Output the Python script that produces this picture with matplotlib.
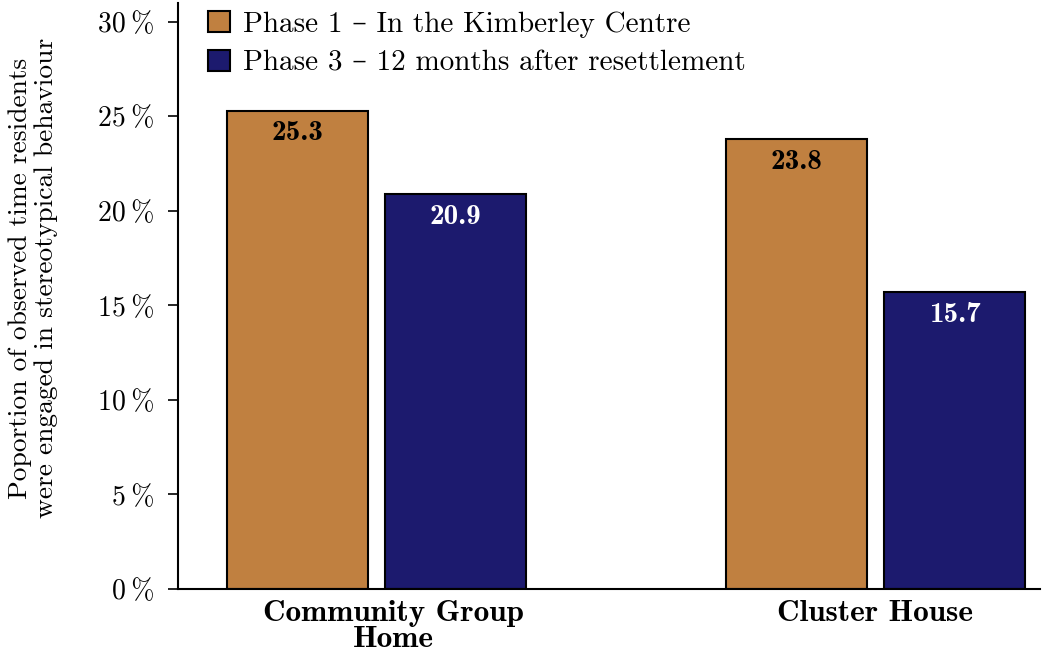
import matplotlib
matplotlib.use("Agg")
import matplotlib.pyplot as plt
import matplotlib.transforms as mtransforms
from matplotlib.ticker import FuncFormatter, MultipleLocator
import numpy as np

# ---- data ----
categories = ["Community Group\nHome", "Cluster House"]
series_names = ["Phase 1 \u2013 In the Kimberley Centre",
                "Phase 3 \u2013 12 months after resettlement"]
phase1 = [25.3, 23.8]
phase3 = [20.9, 15.7]
colors = ["#C08040", "#1C1A6E"]
label_colors = ["black", "white"]
ylabel = "Poportion of observed time residents\nwere engaged in stereotypical behaviour"

plt.rcParams['font.family'] = ['cmr10', 'DejaVu Serif']
plt.rcParams['mathtext.fontset'] = 'cm'
plt.rcParams['axes.formatter.use_mathtext'] = True

fig = plt.figure(figsize=(10.42, 6.52), dpi=100)
ax = fig.add_axes([178/1042, 1-589/652, (1040-178)/1042, (589-3)/652])

x = np.arange(len(categories))
width = 0.2826
offset = 0.1583
for i, (vals, name) in enumerate(zip([phase1, phase3], series_names)):
    pos = x + (offset if i else -offset)
    bars = ax.bar(pos, vals, width=width, color=colors[i], edgecolor="black",
                  linewidth=1.5, label=name, zorder=2)
    for b, v in zip(bars, vals):
        ax.annotate(f"{v:.1f}", (b.get_x() + b.get_width()/2, b.get_height()),
                    xytext=(0, -7), textcoords="offset points",
                    ha="center", va="top", fontsize=21,
                    family=['cmb10', 'DejaVu Serif'], color=label_colors[i])

ax.set_xlim(-0.3978, 1.3297)
ax.set_ylim(0, 31)
ax.yaxis.set_major_locator(MultipleLocator(5))
ax.yaxis.set_major_formatter(FuncFormatter(lambda v, p: f"{v:.0f}\u2009%"))
ax.tick_params(axis='y', labelsize=20, length=7, width=1.2, pad=10)
ax.set_xticks(x)
ax.set_xticklabels(categories, fontsize=22.5, family=['cmb10', 'DejaVu Serif'],
                   linespacing=0.97)
ax.tick_params(axis='x', length=0, pad=8)
# shift first category label slightly right as in reference
lab0 = ax.get_xticklabels()[0]
lab0.set_transform(lab0.get_transform() + mtransforms.ScaledTranslation(17/100, 0, fig.dpi_scale_trans))

for s in ["top", "right"]:
    ax.spines[s].set_visible(False)
ax.spines["left"].set_linewidth(1.5)
ax.spines["bottom"].set_linewidth(1.5)

fig.text(33/1042, 1-278/652, ylabel, rotation=90, ha="center", va="center",
         fontsize=19.8, multialignment="center", linespacing=1.15)

leg = ax.legend(loc="upper left", bbox_to_anchor=(30/862, 1-8/586), frameon=False,
                fontsize=21, handlelength=0.75, handleheight=0.75, handletextpad=0.45,
                labelspacing=0.4, borderpad=0, borderaxespad=0)

fig.savefig("out.png", dpi=100)
